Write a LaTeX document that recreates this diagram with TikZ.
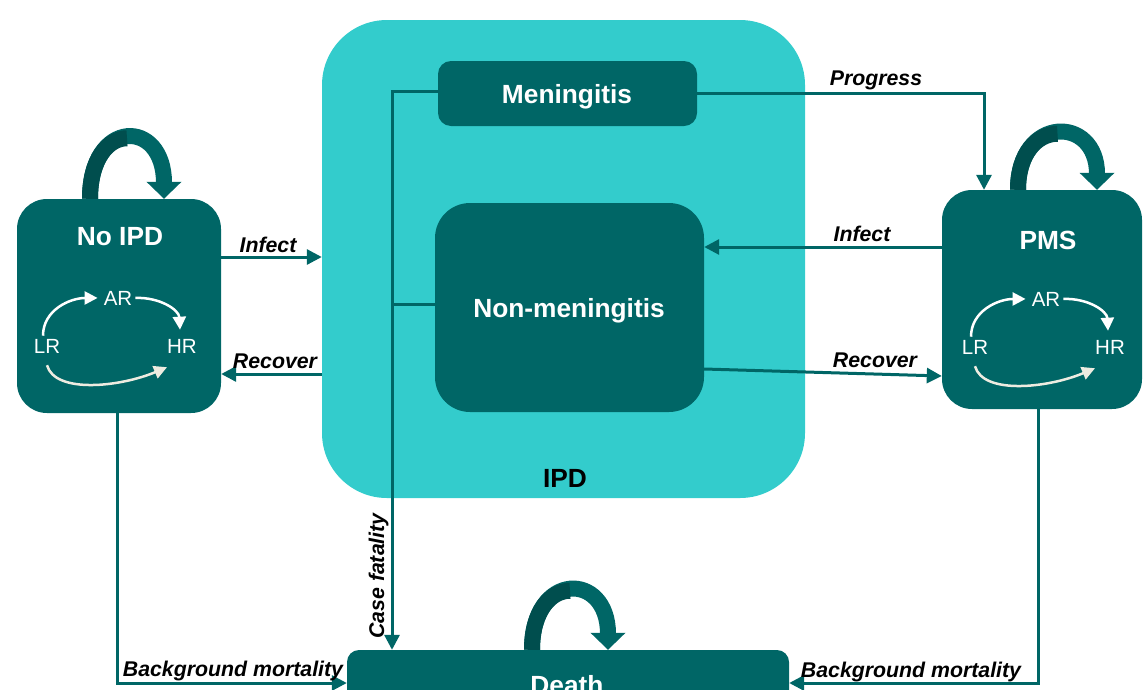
\documentclass[tikz,border=0pt]{standalone}
\usepackage{fontspec}
\setmainfont{Liberation Sans}
\usetikzlibrary{arrows.meta}
\definecolor{teal0}{HTML}{006666}
\definecolor{cyan0}{HTML}{33CCCC}
\definecolor{dteal}{HTML}{004E4E}
\definecolor{beige0}{HTML}{EEECE1}
\tikzset{
 box/.style={fill=teal0, draw=none, rounded corners=#1, inner sep=0pt},
 ttl/.style={text=white, font=\fontsize{26.3}{30}\selectfont\bfseries, inner sep=0pt, anchor=base},
 lbl/.style={text=black, font=\fontsize{21.3}{24}\selectfont\bfseries\itshape, inner sep=0pt, anchor=base},
 conn/.style={draw=teal0, line width=3pt, -{Triangle[length=15pt,width=15pt]}},
 plainline/.style={draw=teal0, line width=3pt},
 inr/.style={text=white, font=\fontsize{20.5}{24}\selectfont, inner sep=3pt, anchor=base},
 wa/.style={draw=white, line width=2.5pt, -{Triangle[length=13pt,width=13pt]}},
 ba/.style={draw=beige0, line width=2.5pt, -{Triangle[length=13pt,width=13pt]}},
 loopa/.style={draw=teal0, line width=16pt, -{Triangle[length=17pt,width=34pt]}},
 loopd/.style={draw=dteal, line width=16pt},
}
\newcommand\riskcycle[3]{%
 \begin{scope}[shift={(#2,#3)}]
 \node[inr] (#1AR) at (118,305) {AR};
 \node[inr] (#1LR) at (47,353) {LR};
 \node[inr] (#1HR) at (182,353) {HR};
 \draw[wa] ([xshift=-4pt]#1LR.north) .. controls (43,310) and (70,298) .. ([xshift=-3pt]#1AR.west);
 \draw[wa] (#1AR.east) .. controls (160,297) and (179,310) .. ([shift={(-2pt,6pt)}]#1HR.north);
 \draw[ba] ([yshift=-9pt]#1LR.south) .. controls (55,394) and (120,387) .. ([shift={(3pt,-11pt)}]#1HR.south west);
 \end{scope}}
\begin{document}
\begin{tikzpicture}[x=1pt,y=-1pt]
\useasboundingbox (0,0) rectangle (1143,689);
\clip (0,0) rectangle (1143,689);
% IPD container
\node[fill=cyan0, rounded corners=65pt, minimum width=483pt, minimum height=478pt, inner sep=0pt] (ipd) at (563.5,259) {};
\node[lbl, font=\fontsize{26.3}{30}\selectfont\bfseries] (ipdT) at (565,487) {IPD};
% boxes
\node[box=13pt, minimum width=259pt, minimum height=65pt] (men) at (567.5,93.5) {};
\node[ttl] (menT) at (567,103) {Meningitis};
\node[box=35pt, minimum width=269pt, minimum height=209pt] (nonmen) at (569.5,307.5) {};
\node[ttl] (nonmenT) at (569,317) {Non-meningitis};
\node[box=30pt, minimum width=204pt, minimum height=214pt] (noipd) at (119,306) {};
\node[ttl] (noipdT) at (120,245) {No IPD};
\node[box=30pt, minimum width=200pt, minimum height=219pt] (pms) at (1042,299.5) {};
\node[ttl] (pmsT) at (1048,249) {PMS};
\node[box=12pt, minimum width=442pt, minimum height=70pt] (death) at (568,685) {};
\node[ttl] (deathT) at (567,694) {Death};
% inner cycles
\riskcycle{n}{0}{0}
\riskcycle{p}{928}{1}
% self loops
\draw[loopa] ([xshift=-29pt]noipd.north) .. controls (90,118) and (164,118) .. ([xshift=45pt]noipd.north);
\draw[loopd] ([xshift=-29pt]noipd.north) .. controls (90,158.5) and (108.5,138.25) .. (127,138.25);
\draw[loopa] ([xshift=-24pt]pms.north) .. controls (1018,115) and (1097,115) .. ([xshift=55pt]pms.north);
\draw[loopd] ([xshift=-24pt]pms.north) .. controls (1018,152.5) and (1037.75,133.75) .. (1057.5,133.75);
\draw[loopa] ([xshift=-36pt]death.north) .. controls (532,571) and (608,571) .. ([xshift=40pt]death.north);
\draw[loopd] ([xshift=-36pt]death.north) .. controls (532,610.5) and (551,590.75) .. (570,590.75);
% connectors
\draw[conn] (noipd.east |- 0,257) -- (ipd.west |- 0,257);
\node[lbl] (l1) at (268,252) {Infect};
\draw[conn] (ipd.west |- 0,374) -- (noipd.east |- 0,374);
\node[lbl] (l2) at (275,368) {Recover};
\draw[conn] (men.east |- 0,93) -| (pms.north -| 984,0);
\node[lbl] (l3) at (876,85) {Progress};
\draw[conn] (pms.west |- 0,247) -- (nonmen.east |- 0,247);
\node[lbl] (l4) at (862,241) {Infect};
\draw[conn] (nonmen.east |- 0,369) -- (pms.west |- 0,376);
\node[lbl] (l5) at (875,367) {Recover};
\coordinate (cfj) at (392,304);
\draw[conn] (men.west |- 0,91) -| (death.north -| 392,0);
\draw[plainline] (nonmen.west |- 0,304) -- (cfj);
\node[lbl, rotate=90] (l6) at (384,576) {Case fatality};
\draw[conn] (noipd.south -| 117,0) |- (death.west |- 0,683);
\node[lbl] (l7) at (233,676) {Background mortality};
\draw[conn] (pms.south -| 1038,0) |- (death.east |- 0,683);
\node[lbl] (l8) at (911,677) {Background mortality};
\end{tikzpicture}
\end{document}
